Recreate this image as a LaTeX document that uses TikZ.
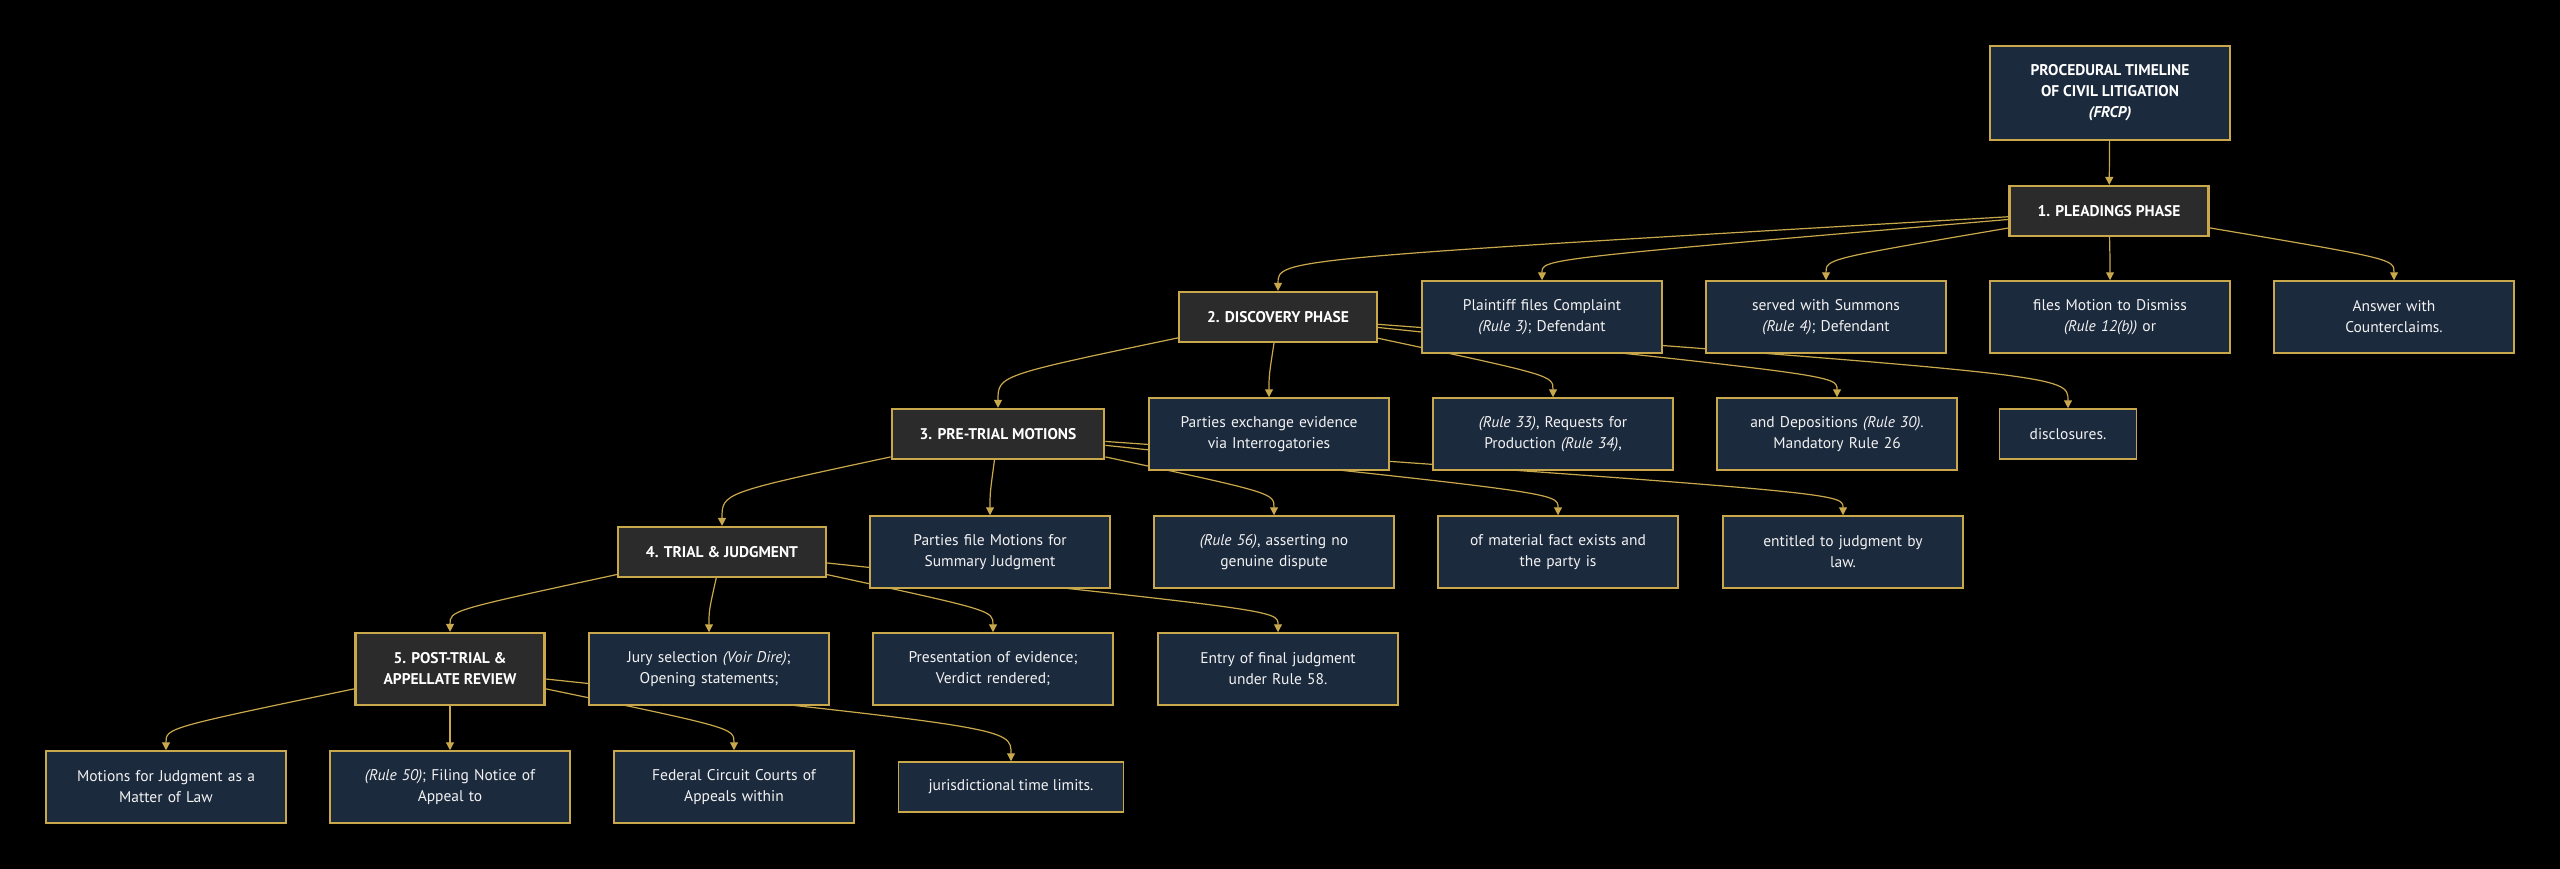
\documentclass[tikz,border=0pt]{standalone}
\usepackage{fontspec}
\setmainfont{PT Sans}
\usepackage{tikz}
\usetikzlibrary{arrows.meta, positioning}

\definecolor{gold}{HTML}{C9A84C}
\definecolor{navy}{HTML}{1C2A3E}
\definecolor{slate}{HTML}{2B2B2B}
\definecolor{ink}{HTML}{F2F2F2}

\pgfdeclarelayer{back}
\pgfsetlayers{back,main}

\begin{document}
\begin{tikzpicture}[
      x=1pt, y=1pt,
      % Node styles
      box/.style={
          rectangle, draw=gold, fill=navy, line width=1.5pt,
          text=ink, align=center, inner xsep=30pt, inner ysep=4pt,
          font=\fontsize{15.5pt}{21pt}\selectfont,
        },
      item/.style={
          box, text width=180pt, minimum height=72pt,
        },
      short/.style={
          box, minimum height=50pt,
        },
      phase/.style={
          box, fill=slate, line width=2.2pt, inner xsep=28pt,
          minimum height=50pt, text=white,
          font=\fontsize{15.5pt}{21pt}\selectfont\bfseries,
        },
      title/.style={
          phase, fill=navy, minimum width=240pt, minimum height=94pt,
        },
      % Edge/arrow style
      link/.style={
          draw=gold, line width=1.2pt,
          -{Triangle[length=8pt, width=8pt]},
        },
    ]
    \useasboundingbox (0,0) rectangle (2560,-869);

    % --- Title and first phase ---
    \node[title] (root) at (2110,-93) {PROCEDURAL TIMELINE\\OF CIVIL LITIGATION\\\textit{(FRCP)}};
    \node[phase] (plead) at (2109,-211) {1. PLEADINGS PHASE};

    % --- Row 1 ---
    \node[phase] (disc) at (1278,-317) {2. DISCOVERY PHASE};
    \node[item] (plaint) at (1542,-317) {Plaintiff files Complaint\\\textit{(Rule 3)}; Defendant};
    \node[item] (summons) at (1826,-317) {served with Summons\\\textit{(Rule 4)}; Defendant};
    \node[item] (dismiss) at (2110,-317) {files Motion to Dismiss\\\textit{(Rule 12(b))} or};
    \node[item] (answer) at (2394,-317) {Answer with\\Counterclaims.};

    % --- Row 2 ---
    \node[phase] (pretrial) at (998,-434) {3. PRE-TRIAL MOTIONS};
    \node[item] (interrog) at (1269,-434) {Parties exchange evidence\\via Interrogatories};
    \node[item] (prod) at (1553,-434) {\textit{(Rule 33)}, Requests for\\Production \textit{(Rule 34)},};
    \node[item] (depo) at (1837,-434) {and Depositions \textit{(Rule 30)}.\\Mandatory Rule 26};
    \node[short] (discl) at (2068,-434) {disclosures.};

    % --- Row 3 ---
    \node[phase] (trial) at (722,-552) {4. TRIAL \& JUDGMENT};
    \node[item] (summary) at (990,-552) {Parties file Motions for\\Summary Judgment};
    \node[item] (rule56) at (1274,-552) {\textit{(Rule 56)}, asserting no\\genuine dispute};
    \node[item] (fact) at (1558,-552) {of material fact exists and\\the party is};
    \node[item] (entitled) at (1843,-552) {entitled to judgment by\\law.};

    % --- Row 4 ---
    \node[phase, minimum height=72pt] (post) at (450,-669) {5. POST-TRIAL \&\\APPELLATE REVIEW};
    \node[item] (jury) at (709,-669) {Jury selection \textit{(Voir Dire)};\\Opening statements;};
    \node[item] (verdict) at (993,-669) {Presentation of evidence;\\Verdict rendered;};
    \node[item] (entry) at (1278,-669) {Entry of final judgment\\under Rule 58.};

    % --- Row 5 ---
    \node[item] (jmol) at (166,-787) {Motions for Judgment as a\\Matter of Law};
    \node[item] (notice) at (450,-787) {\textit{(Rule 50)}; Filing Notice of\\Appeal to};
    \node[item] (circuit) at (734,-787) {Federal Circuit Courts of\\Appeals within};
    \node[short] (limits) at (1011,-787) {jurisdictional time limits.};

    % bend lines between the rows
    \coordinate (m1) at (0,-259);
    \coordinate (m2) at (0,-375.5);
    \coordinate (m3) at (0,-493);
    \coordinate (m4) at (0,-610.5);
    \coordinate (m5) at (0,-728);

    % --- Connectors, behind the boxes ---
    \begin{pgfonlayer}{back}
      \fill[black] (0,0) rectangle (2560,-869);
      \draw[link] (root) -- (plead);
      \foreach \from/\to/\mid in {plead/disc/m1, plead/plaint/m1, plead/summons/m1, plead/dismiss/m1, plead/answer/m1,
          disc/pretrial/m2, disc/interrog/m2, disc/prod/m2, disc/depo/m2, disc/discl/m2,
          pretrial/trial/m3, pretrial/summary/m3, pretrial/rule56/m3, pretrial/fact/m3, pretrial/entitled/m3,
          trial/post/m4, trial/jury/m4, trial/verdict/m4, trial/entry/m4,
          post/jmol/m5, post/notice/m5, post/circuit/m5, post/limits/m5} {
          \draw[link] (\from) .. controls (\to |- \mid) .. (\to);
        }
    \end{pgfonlayer}

  \end{tikzpicture}
\end{document}
